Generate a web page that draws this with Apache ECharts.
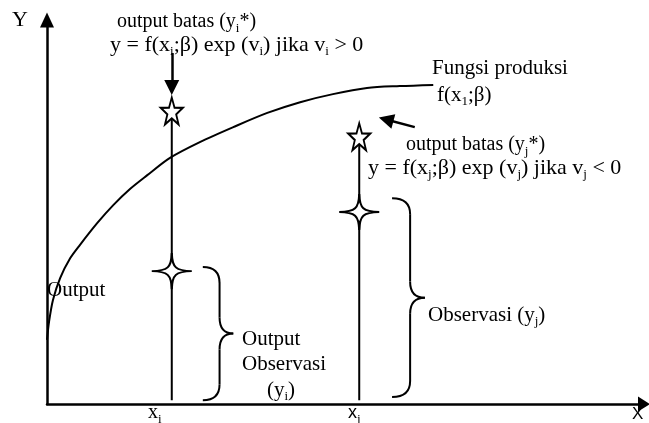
<!DOCTYPE html>
<html><head><meta charset="utf-8">
<script src="https://cdn.jsdelivr.net/npm/echarts@6/dist/echarts.min.js"></script>
<style>html,body{margin:0;padding:0;background:#fff}#c{width:649px;height:423px}</style>
</head><body><div id="c"></div>
<script>
// Production function curve (data units: x 0..100, y 0..100)
const curveX = [0, 0.34, 1.0, 2.2, 3.9, 5.5, 8.4, 11.1, 13.9, 16.8, 20.6, 25.6, 31.2, 36.9, 42.4, 47.9, 53.6, 59.1, 64.7];
const curveY = [16.7, 21.4, 27.1, 32.8, 38.0, 41.4, 47.1, 51.8, 56.0, 59.6, 64.1, 68.2, 72.1, 75.8, 78.6, 80.7, 82.3, 82.8, 83.1];
// Observations i and j
const obsNames = ['i', 'j'];
const obsX = [20.9, 52.3];
const obsY = [34.6, 50.0];        // observed output (4-point star)
const frontierY = [76.3, 69.6];   // frontier output (5-point star)
const lineBase = [1.0, 1.0];
// Braces: left x, tip x, low y, high y
const braceLeft = [26.1, 57.8];
const braceTip = [31.2, 63.3];
const braceLow = [1.0, 1.8];
const braceHigh = [35.7, 53.6];
// Pointer arrows: [fromX, fromY, toX, toY]
const arrowFromX = [20.9, 61.6];
const arrowFromY = [91.4, 72.1];
const arrowToX = [20.9, 56.8];
const arrowToY = [82.4, 74.1];

const chart = echarts.init(document.getElementById('c'));
const SERIF = 'Liberation Serif';
const star5 = 'path://M0,-10 L2.35,-3.24 L9.51,-3.09 L3.8,1.24 L5.88,8.09 L0,4 L-5.88,8.09 L-3.8,1.24 L-9.51,-3.09 L-2.35,-3.24 Z';
const star4 = 'path://M0,-10 C0.2,-2 2,-0.2 10,0 C2,0.2 0.2,2 0,10 C-0.2,2 -2,0.2 -10,0 C-2,-0.2 -0.2,-2 0,-10 Z';

const series = [];
series.push({
  type: 'line', data: curveX.map((x, k) => [x, curveY[k]]), smooth: 0.3,
  showSymbol: false, lineStyle: {color: '#000', width: 2}, z: 2, silent: true
});
obsX.forEach((x, k) => {
  series.push({
    type: 'line', data: [[x, lineBase[k]], [x, frontierY[k]]], showSymbol: false,
    lineStyle: {color: '#000', width: 2}, z: 2, silent: true
  });
});
series.push({
  type: 'scatter', data: obsX.map((x, k) => [x, frontierY[k]]), symbol: star5, symbolSize: [22, 27],
  itemStyle: {color: '#fff', borderColor: '#000', borderWidth: 2, opacity: 1}, z: 5, silent: true
});
series.push({
  type: 'scatter', data: obsX.map((x, k) => [x, obsY[k]]), symbol: star4, symbolSize: [40, 36],
  itemStyle: {color: '#fff', borderColor: '#000', borderWidth: 2, opacity: 1}, z: 5, silent: true
});
series.push({
  type: 'lines', coordinateSystem: 'cartesian2d', silent: true, z: 6,
  symbol: ['none', 'triangle'], symbolSize: 15,
  lineStyle: {color: '#000', width: 2.5, opacity: 1, curveness: 0},
  data: arrowFromX.map((x, k) => ({coords: [[x, arrowFromY[k]], [arrowToX[k], arrowToY[k]]]}))
});
series.push({
  type: 'custom', silent: true, z: 4,
  data: braceLeft.map((x, k) => [x, braceTip[k], braceLow[k], braceHigh[k]]),
  renderItem(params, api) {
    const pTop = api.coord([api.value(0), api.value(3)]);
    const pBot = api.coord([api.value(0), api.value(2)]);
    const pTip = api.coord([api.value(1), (api.value(2) + api.value(3)) / 2]);
    const x0 = pTop[0], y0 = pTop[1], y1 = pBot[1], x2 = pTip[0], ym = pTip[1];
    const x1 = x0 + (x2 - x0) * 0.55;
    const r = 16;
    const st = {stroke: '#000', lineWidth: 2, fill: null};
    const bz = (a, b, c, d, e, f) => ({type: 'bezierCurve', shape: {x1: a, y1: b, cpx1: c, cpy1: d, x2: e, y2: f}, style: st});
    const ln = (a, b, c, d) => ({type: 'line', shape: {x1: a, y1: b, x2: c, y2: d}, style: st});
    return {type: 'group', children: [
      bz(x0, y0, x1, y0, x1, y0 + r),
      ln(x1, y0 + r, x1, ym - r),
      bz(x1, ym - r, x1, ym, x2, ym),
      bz(x2, ym, x1, ym, x1, ym + r),
      ln(x1, ym + r, x1, y1 - r),
      bz(x1, y1 - r, x1, y1, x0, y1)
    ]};
  }
});

const rich = {s: {fontFamily: SERIF, fontSize: 13, lineHeight: 13, verticalAlign: 'bottom', fill: '#000', color: '#000'}};
function txt(x, y, text, extra) {
  return {
    type: 'text', x: x, y: y, z: 100, silent: true,
    style: Object.assign({text: text, fontFamily: SERIF, fontSize: 21, lineHeight: 26, fill: '#000',
      align: 'left', verticalAlign: 'middle', rich: rich}, extra || {})
  };
}
const graphic = [
  txt(12, 20, 'Y', {fontSize: 22}),
  txt(117, 22, 'output batas (y{s|i}*)', {fontSize: 20}),
  txt(110, 45, 'y = f(x{s|i};β) exp (v{s|i}) jika v{s|i} > 0', {fontSize: 22}),
  txt(432, 68, 'Fungsi produksi'),
  txt(437, 95, 'f(x{s|1};β)'),
  txt(406, 145, 'output batas (y{s|j}*)', {fontSize: 20}),
  txt(368, 168, 'y = f(x{s|j};β) exp (v{s|j}) jika v{s|j} < 0', {fontSize: 22}),
  txt(47, 290, 'Output'),
  txt(242, 339, 'Output'),
  txt(242, 364, 'Observasi'),
  txt(267, 390, '(y{s|i})'),
  txt(428, 315, 'Observasi (y{s|j})'),
  txt(148, 413, 'x{s|i}', {fontSize: 20}),
  txt(348, 413, 'x{s|j}', {fontFamily: 'Liberation Sans', fontSize: 18}),
  txt(632, 414, 'X', {fontFamily: 'Liberation Sans', fontSize: 17})
];

chart.setOption({
  animation: false,
  backgroundColor: '#fff',
  grid: {left: 47, right: 5, top: 20, bottom: 19},
  xAxis: {type: 'value', min: 0, max: 100,
    axisLine: {show: true, onZero: false, lineStyle: {color: '#000', width: 2.5}, symbol: ['none', 'triangle'], symbolSize: [15, 12]},
    axisTick: {show: false}, axisLabel: {show: false}, splitLine: {show: false}},
  yAxis: {type: 'value', min: 0, max: 100,
    axisLine: {show: true, onZero: false, lineStyle: {color: '#000', width: 2.5}, symbol: ['none', 'triangle'], symbolSize: [14, 15]},
    axisTick: {show: false}, axisLabel: {show: false}, splitLine: {show: false}},
  series: series,
  graphic: graphic
});
</script></body></html>
